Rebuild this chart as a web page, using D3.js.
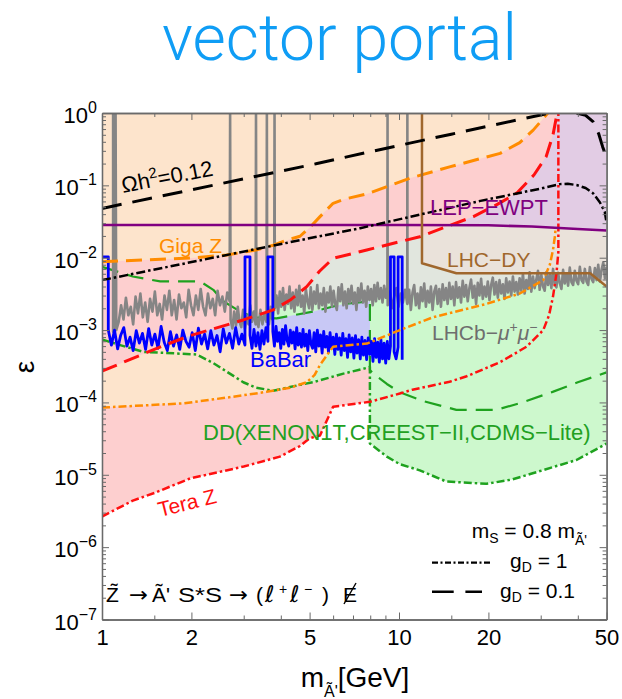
<!DOCTYPE html>
<html>
<head>
<meta charset="utf-8">
<script src="https://cdn.jsdelivr.net/npm/d3@7"></script>
<style>
  body { margin: 0; background: #fff; }
  svg { display: block; font-family: "Liberation Sans", Arial, Helvetica, sans-serif; }
</style>
</head>
<body>
<svg id="chart" width="622" height="699"></svg>
<script>
// ---------- data: mass m_A' [GeV] vs kinetic mixing epsilon ----------
const xMajor = [1, 2, 5, 10, 20, 50];
const xMinor = [1.5, 3, 4, 6, 7, 8, 9, 15, 30, 40];
const yExponents = [0, -1, -2, -3, -4, -5, -6, -7];

// relic abundance lines (Omega h^2 = 0.12)
const relicG01 = [[1, 0.048], [5.3, 0.2], [7.79, 0.285], [15, 0.51], [30, 0.94], [32.1, 1.0]];
const relicG01High = [[39.6, 1.0], [42.5, 0.93], [45, 0.76], [47, 0.52], [48.5, 0.34], [50, 0.24]];
const relicG1 = [[1, 0.0049], [5.3, 0.0195], [7.4, 0.0256], [18.8, 0.061], [29.9, 0.09], [34.8, 0.104],
                 [37, 0.105], [39.6, 0.101], [42.5, 0.092], [45, 0.078], [47.5, 0.058], [49.3, 0.043], [50, 0.03]];

// Giga Z projections
const gigaZ01 = [[1, 0.0088], [2.0, 0.0099], [2.63, 0.0109], [3.3, 0.0128], [3.8, 0.015], [4.19, 0.0175],
                 [4.64, 0.0198], [5.0, 0.026], [5.42, 0.037], [6.0, 0.0565], [6.5, 0.064], [7.79, 0.076],
                 [10.85, 0.125], [14.8, 0.18], [21.9, 0.277], [25.5, 0.39], [28.3, 0.58], [30.3, 0.8], [31.7, 1.0]];
const gigaZ1 = [[1, 8.5e-5], [1.88, 9.7e-5], [2.77, 1.2e-4], [3.58, 1.4e-4], [4.3, 1.6e-4], [4.89, 1.9e-4],
                [5.2, 2.4e-4], [5.42, 3.3e-4], [6.0, 5.9e-4], [7.8, 6.5e-4], [10.07, 1.0e-3], [13.0, 1.5e-3],
                [19.7, 2.3e-3], [25.5, 3.2e-3], [30.6, 4.9e-3], [32.2, 8e-3], [33, 0.0128], [33.5, 0.02], [33.7, 0.026]];
const gigaZ1RegionMaxX = 6.5;

// Tera Z projections
const teraZ01 = [[1, 2.7e-4], [1.53, 5.6e-4], [1.93, 8.1e-4], [2.99, 1.38e-3], [3.77, 1.9e-3], [4.3, 2.6e-3],
                 [4.89, 3.98e-3], [5.4, 6.5e-3], [6.0, 9.8e-3], [7.79, 0.0128], [11.75, 0.0195], [17.8, 0.037],
                 [21.5, 0.055], [24.9, 0.078], [28.5, 0.14], [31.3, 0.25], [33, 0.5], [33.9, 0.89], [34.1, 1.0]];
const teraZ1 = [[1, 2.65e-6], [1.27, 4.4e-6], [1.5, 5.6e-6], [1.98, 8.9e-6], [3.0, 1.3e-5], [3.97, 1.78e-5],
                [4.64, 2.5e-5], [5.0, 3.2e-5], [5.42, 3.5e-5], [5.7, 5.5e-5], [6.0, 8.7e-5], [7.98, 1.02e-4],
                [10.07, 1.33e-4], [11.1, 1.5e-4], [14.8, 1.93e-4], [16.9, 2.3e-4], [21.9, 3.6e-4], [26.9, 5.9e-4],
                [30.6, 1.0e-3], [32, 1.6e-3], [33, 2.9e-3], [33.9, 6.1e-3], [34.4, 0.012], [34.4, 1.0]];

// direct detection (XENON1T, CRESST-II, CDMS-Lite)
const dd1 = [[1, 7.4e-4], [1.15, 6.2e-4], [1.38, 5.0e-4], [2.08, 4.6e-4], [2.37, 3.5e-4], [2.99, 1.9e-4],
             [3.3, 1.6e-4], [3.77, 1.45e-4], [4.64, 1.75e-4], [5.14, 1.9e-4], [6.5, 2.5e-4], [7.79, 3.0e-4],
             [7.98, 3.1e-4], [7.98, 2.7e-5], [9.1, 1.78e-5], [10.07, 1.4e-5], [11.75, 1.15e-5], [14.4, 8.1e-6],
             [19.7, 7.5e-6], [24, 8.6e-6], [28.2, 1.05e-5], [39.6, 1.6e-5], [50, 2.7e-5]];
const dd01 = [[1, 7.5e-3], [1.27, 5.5e-3], [1.57, 4.7e-3], [2.14, 4.7e-3], [2.37, 3.6e-3], [2.56, 2.5e-3],
              [2.99, 1.7e-3], [3.31, 1.5e-3], [3.87, 1.45e-3], [5.14, 1.8e-3], [6.5, 2.3e-3], [7.98, 2.5e-3],
              [7.98, 2.8e-4], [8.2, 2.5e-4], [9.1, 1.8e-4], [10, 1.4e-4], [12, 1.05e-4], [15.6, 7.9e-5],
              [21.3, 7.9e-5], [26, 1.0e-4], [32.9, 1.4e-4], [40, 1.9e-4], [50, 2.6e-4]];

// LEP electroweak precision and LHC Drell-Yan
const lepEwpt = [[1, 0.0283], [10, 0.0283], [20, 0.028], [28, 0.027], [40, 0.025], [50, 0.0237]];
const lhcDy = [[11.95, 1.0], [11.95, 8.4e-3], [15.6, 6.1e-3], [44, 6.1e-3], [50, 4.0e-3]];

// LHCb dimuon search: scan values (units of 1e-3) between resonance vetoes
const lhcbTop = 1.0;
const lhcbSegments = [
  { from: 1.090, to: 1.105, v: [0.95, 1.1] },
  { from: 1.117, to: 2.69, v: [1.0,1.3,2.2,1.4,2.8,1.6,2.1,1.2,2.9,1.7,3.2,1.5,2.4,1.3,2.7,1.8,3.4,1.6,2.3,1.4,3.0,1.9,3.5,1.6,
                               2.6,1.4,3.1,2.0,2.4,1.5,3.6,2.2,1.6,3.0,1.9,3.7,2.1,1.6,3.2,2.0,2.7,1.6,3.5,2.2,2.9,1.8,3.3,2.5] },
  { from: 2.71, to: 3.29, v: [1.4,1.05,1.8,1.15,2.1,1.3,1.1,1.9,1.05,1.6,1.2,2.2,1.3,1.8,1.2] },
  { from: 3.31, to: 3.58, v: [1.5,1.1,1.9,1.2,1.7,1.3] },
  { from: 3.60, to: 3.80, v: [1.6,1.2,2.1,1.4,2.4] },
  { from: 3.82, to: 9.14, v: [2.0,3.0,1.7,3.4,2.1,3.8,1.9,3.1,2.3,4.0,2.0,3.3,1.8,3.6,2.2,4.1,2.1,3.0,1.7,3.7,2.5,2.0,3.9,1.9,
                               3.4,2.3,4.2,2.0,3.2,2.2,3.8,1.8,3.3,2.4,4.0,2.1,3.5,2.3,1.9,3.9,2.5,4.3,2.2,3.4,2.0,3.7,2.4,4.1,
                               2.3,3.3,1.9,3.8,2.5,4.4,2.4,3.5,2.1,4.0,2.6,3.7,2.2,4.2,2.5,4.5,2.7,3.8,2.4,4.1,2.8,3.9] },
  { from: 9.16, to: 10.66, v: [2.2,3.4,2.0,2.9,3.8,2.1,3.2,2.4,3.6,2.3] },
  { from: 10.68, to: 50, v: [2.3,3.6,1.9,3.3,4.2,2.2,3.2,2.0,3.9,2.5,4.4,2.1,3.5,2.4,4.0,1.9,3.4,4.1,2.3,3.7,2.1,4.3,2.6,3.8,2.3,4.5,
                              2.7,4.0,2.2,4.6,2.8,3.9,2.4,4.8,2.9,4.2,2.5,3.8,5.0,2.8,4.1,2.3,4.5,3.0,5.1,2.7,4.0,2.9,4.7,2.6,
                              4.2,5.3,3.1,4.6,2.8,4.9,3.2,4.3,2.7,5.2,3.3,4.7,3.0,5.5,3.4,4.6,
                              3.1,5.2,3.5,6.0,3.2,4.9,3.7,6.3,3.4,5.5,3.8,5.0,6.6,3.6,5.8,4.0,3.5,6.3,4.2,5.9,3.8,7.0,4.3,3.9,
                              6.2,4.5,3.7,6.8,4.4,6.1,4.1,7.3,4.6,4.2,6.6,4.8,4.3,7.5,4.9,4.5,7.0,4.7,4.2,7.4,5.1,4.6,7.2,4.9,
                              8.0,4.7,6.8,8.6,5.2,7.5] }
];
const lhcbVetoes = [1.111, 2.70, 3.30, 3.59, 3.81, 9.15, 10.67];

// BaBar search: scan values (units of 1e-3) and vetoed windows
const babarTop = 0.0103;
const babarStartX = 1.0;
const babarSegments = [
  { from: 1.05, to: 3.03, v: [1.0,0.62,1.0,0.55,0.85,1.08,0.6,0.8,0.52,0.98,0.66,0.9,0.54,1.05,0.62,0.88,0.56,1.12,0.68,0.52,0.95,0.6,
                              0.86,0.54,1.0,0.7,0.58,0.92,0.52,1.06,0.64,0.88,0.55,0.98,0.62,0.84,0.5,1.04,0.66,0.9,0.56,1.08,0.64,0.88,0.62] },
  { from: 3.15, to: 3.62, v: [0.85,0.56,1.02,0.6,0.92,0.54,0.98,0.64,1.08,0.7] },
  { from: 3.76, to: 9.36, v: [0.95,0.6,1.12,0.7,0.92,0.56,1.02,0.64,1.15,0.72,0.6,1.0,0.66,0.94,0.55,1.08,0.62,0.9,0.58,1.02,0.6,0.88,
                              0.52,0.98,0.64,0.56,0.92,0.5,1.0,0.6,0.86,0.48,0.96,0.58,0.82,0.5,0.92,0.56,0.8,0.46,0.88,0.54,0.78,
                              0.45,0.9,0.52,0.76,0.42,0.86,0.5,0.78,0.41,0.84,0.48,0.74,0.4,0.8,0.45,0.72,0.39,0.78,0.46,0.7,0.37,
                              0.76,0.42,0.68,0.36,0.74,0.4,0.66,0.35,0.7,0.4,0.6] },
  { from: 9.63, to: 9.93, v: [0.5,0.4,0.58] },
  { from: 10.25, to: 10.25, v: [0.39] }
];
const babarVetoes = [[3.03, 3.15], [3.62, 3.76], [9.36, 9.63], [9.93, 10.25]];

// ---------- layout ----------
const plot = { left: 102, right: 606.6, top: 113, bottom: 619.5 };
const svg = d3.select("#chart");
const x = d3.scaleLog().domain([1, 50]).range([plot.left, plot.right]);
const y = d3.scaleLog().domain([1e-7, 1]).range([plot.bottom, plot.top]);
const line = d3.line().x(d => x(d[0])).y(d => y(d[1]));

function segPoints(seg) {
  const n = seg.v.length, l0 = Math.log10(seg.from), l1 = Math.log10(seg.to);
  return seg.v.map((v, i) => [Math.pow(10, n === 1 ? l0 : l0 + (l1 - l0) * i / (n - 1)), v * 1e-3]);
}

// LHCb curve with spikes through vetoed resonances
const lhcbPts = [[lhcbSegments[0].from, lhcbTop]];
lhcbSegments.forEach((s, i) => {
  lhcbPts.push(...segPoints(s));
  if (i < lhcbVetoes.length) lhcbPts.push([lhcbVetoes[i], lhcbTop]);
});

// BaBar curve with boxes over vetoed windows
const babarPts = [[babarStartX, babarTop], [babarSegments[0].from, babarTop]];
babarSegments.forEach((s, i) => {
  const pts = segPoints(s);
  babarPts.push(...pts);
  if (i < babarVetoes.length) {
    const [a, b] = babarVetoes[i];
    babarPts.push([a, pts[pts.length - 1][1]], [a, babarTop], [b, babarTop]);
  }
});

function regionAbove(pts) {
  const p = [...pts, [pts[pts.length - 1][0], 1], [pts[0][0], 1]];
  return line(p) + "Z";
}

// ---------- title ----------
const title = svg.append("text")
  .attr("x", 339.5).attr("y", 60)
  .attr("text-anchor", "middle")
  .attr("fill", "#0f9df5")
  .style("font-family", "Roboto, 'Liberation Sans', Arial, sans-serif")
  .style("font-weight", 300)
  .style("font-size", "64px")
  .text("vector portal");
const tw = title.node().getComputedTextLength();
title.style("font-size", (64 * 355 / tw).toFixed(1) + "px");

// ---------- filled regions ----------
svg.append("defs").append("clipPath").attr("id", "plotClip")
  .append("rect").attr("x", plot.left).attr("y", plot.top)
  .attr("width", plot.right - plot.left).attr("height", plot.bottom - plot.top);
const gFill = svg.append("g").attr("clip-path", "url(#plotClip)");

const fills = [
  { pts: teraZ1, color: "#fdcfcf" },
  { pts: dd1, color: "#cdf8cd" },
  { pts: gigaZ1.filter(d => d[0] <= gigaZ1RegionMaxX).concat([[gigaZ1RegionMaxX, 6.1e-4]]), color: "#fde4cc" },
  { pts: babarPts, color: "#c8c8f5" },
  { pts: dd01, color: "#cdf8cd" },
  { pts: lhcbPts, color: "#e1e6de" },
  { pts: lhcDy, color: "#eae2da" },
  { pts: lepEwpt, color: "#e2cce4" },
  { pts: teraZ01, color: "#fdcfcf" },
  { pts: gigaZ01, color: "#fde4cc" }
];
fills.forEach(f => gFill.append("path").attr("d", regionAbove(f.pts)).attr("fill", f.color));

// ---------- boundary curves ----------
const gLines = svg.append("g").attr("clip-path", "url(#plotClip)")
  .attr("fill", "none").attr("stroke-linejoin", "round");
const green = "#1fa21f", orange = "#ff8c00", red = "#ff1010";
const DASH = "16 8", DASHDOT = "8 3 2.5 3";
const curves = [
  { pts: dd01, stroke: green, w: 2.2, dash: "17 9" },
  { pts: dd1, stroke: green, w: 2.5, dash: DASHDOT },
  { pts: lhcbPts, stroke: "#858585", w: 2.6 },
  { pts: babarPts, stroke: "#0000ff", w: 2.8 },
  { pts: gigaZ1, stroke: orange, w: 2.5, dash: DASHDOT },
  { pts: gigaZ01, stroke: orange, w: 3, dash: DASH },
  { pts: teraZ1, stroke: red, w: 2.5, dash: DASHDOT },
  { pts: teraZ01, stroke: red, w: 3, dash: DASH },
  { pts: lepEwpt, stroke: "#800080", w: 2.5 },
  { pts: lhcDy, stroke: "#a0672d", w: 2.5 },
  { pts: relicG1, stroke: "#000", w: 2.5, dash: "9 3 2.5 3" },
  { pts: relicG01, stroke: "#000", w: 3, dash: "20 11" },
  { pts: relicG01High, stroke: "#000", w: 3, dash: "20 11" }
];
curves.forEach(c => {
  const p = gLines.append("path").attr("d", line(c.pts)).attr("stroke", c.stroke).attr("stroke-width", c.w);
  if (c.dash) p.attr("stroke-dasharray", c.dash);
});

// ---------- axes / frame ----------
const axisColor = "#6a6a6a";
const yMajor = yExponents.map(e => Math.pow(10, e));
const yMinor = [];
for (let e = -7; e < 0; e++) for (let m = 2; m <= 9; m++) yMinor.push(m * Math.pow(10, e));

function styleAxis(g) {
  g.attr("font-family", null).attr("font-size", null);
  g.select(".domain").attr("stroke", axisColor).attr("stroke-width", 1.3);
  g.selectAll(".tick line").attr("stroke", axisColor).attr("stroke-width", 1);
}
const axes = [
  [d3.axisBottom(x).tickValues(xMajor).tickSizeInner(-7).tickSizeOuter(0).tickPadding(10).tickFormat(d3.format("d")), `translate(0,${plot.bottom})`],
  [d3.axisBottom(x).tickValues(xMinor).tickSizeInner(-4).tickSizeOuter(0).tickFormat(""), `translate(0,${plot.bottom})`],
  [d3.axisTop(x).tickValues(xMajor).tickSizeInner(-7).tickSizeOuter(0).tickFormat(""), `translate(0,${plot.top})`],
  [d3.axisTop(x).tickValues(xMinor).tickSizeInner(-4).tickSizeOuter(0).tickFormat(""), `translate(0,${plot.top})`],
  [d3.axisLeft(y).tickValues(yMajor).tickSizeInner(-7).tickSizeOuter(0).tickFormat(""), `translate(${plot.left},0)`],
  [d3.axisLeft(y).tickValues(yMinor).tickSizeInner(-4).tickSizeOuter(0).tickFormat(""), `translate(${plot.left},0)`],
  [d3.axisRight(y).tickValues(yMajor).tickSizeInner(-7).tickSizeOuter(0).tickFormat(""), `translate(${plot.right},0)`],
  [d3.axisRight(y).tickValues(yMinor).tickSizeInner(-4).tickSizeOuter(0).tickFormat(""), `translate(${plot.right},0)`]
];
axes.forEach(([ax, tr]) => svg.append("g").attr("transform", tr).call(ax).call(styleAxis));
svg.selectAll(".tick text").attr("fill", "#000").style("font-size", "22px");

// y tick labels as powers of ten
const yLab = svg.append("g").attr("text-anchor", "end").attr("fill", "#000");
yExponents.forEach(e => {
  const t = yLab.append("text").attr("x", 97).attr("y", y(Math.pow(10, e)) + 10).style("font-size", "22px");
  t.append("tspan").text("10");
  t.append("tspan").attr("dy", -10).style("font-size", "16px").text(e === 0 ? "0" : "\u2212" + (-e));
});

// axis titles
const xt = svg.append("text").attr("x", 355).attr("y", 687).attr("text-anchor", "middle").style("font-size", "28px");
xt.append("tspan").text("m");
xt.append("tspan").attr("dy", 10).style("font-size", "16px").text("\u00C3'");
xt.append("tspan").attr("dy", -10).text("[GeV]");
svg.append("text").attr("transform", "translate(34,367) rotate(-90)").attr("text-anchor", "middle")
  .style("font-size", "28px").text("\u03B5");

// ---------- in-plot labels ----------
const lab = svg.append("g");
const om = lab.append("text").attr("transform", "translate(123,193) rotate(-11)").style("font-size", "22px");
om.append("tspan").text("\u03A9h");
om.append("tspan").attr("dy", -9).style("font-size", "15px").text("2");
om.append("tspan").attr("dy", 9).text("=0.12");
lab.append("text").attr("x", 159).attr("y", 252.5).attr("fill", orange).style("font-size", "21px").text("Giga Z");
lab.append("text").attr("x", 430).attr("y", 215).attr("fill", "#800080").style("font-size", "22px").text("LEP\u2212EWPT");
lab.append("text").attr("x", 447).attr("y", 266.5).attr("fill", "#a0672d").style("font-size", "21px").text("LHC\u2212DY");
const lb = lab.append("text").attr("x", 432).attr("y", 340).attr("fill", "#6e6e6e").style("font-size", "21px");
lb.append("tspan").text("LHCb\u2212");
lb.append("tspan").style("font-style", "italic").text("\u03BC");
lb.append("tspan").attr("dy", -8).style("font-size", "14px").text("+");
lb.append("tspan").attr("dy", 8).style("font-style", "italic").text("\u03BC");
lb.append("tspan").attr("dy", -8).style("font-size", "14px").text("\u2212");
lab.append("text").attr("x", 250).attr("y", 367).attr("fill", "#0000ff").style("font-size", "22px").text("BaBar");
lab.append("text").attr("x", 203).attr("y", 440).attr("fill", "#22a022").style("font-size", "22px")
  .text("DD(XENON1T,CREEST\u2212II,CDMS\u2212Lite)");
lab.append("text").attr("transform", "translate(160,517) rotate(-14)").attr("fill", red).style("font-size", "21px").text("Tera Z");

// process formula, laid out piece by piece
const fBase = 601.5;
const pieces = [
  { t: "Z\u0303", x: 106, size: 21 },
  { t: "\u2192", x: 129, size: 21, len: 19, font: "DejaVu Sans" },
  { t: "\u00C3'", x: 152, size: 21 },
  { t: "S*S", x: 178, size: 21, len: 44 },
  { t: "\u2192", x: 229, size: 21, len: 19, font: "DejaVu Sans" },
  { t: "(", x: 256, size: 21 },
  { t: "\u2113", x: 265, size: 23, font: "DejaVu Sans", italic: true },
  { t: "+", x: 279, size: 14, dy: -8 },
  { t: "\u2113", x: 290, size: 23, font: "DejaVu Sans", italic: true },
  { t: "\u2212", x: 304, size: 14, dy: -8 },
  { t: ")", x: 322, size: 21 },
  { t: "E", x: 343, size: 21 }
];
pieces.forEach(p => {
  const t = lab.append("text").attr("x", p.x).attr("y", fBase + (p.dy || 0)).style("font-size", p.size + "px").text(p.t);
  if (p.len) t.attr("textLength", p.len).attr("lengthAdjust", "spacingAndGlyphs");
  if (p.font) t.style("font-family", p.font);
  if (p.italic) t.style("font-style", "italic");
});
lab.append("line").attr("x1", 344).attr("y1", 604).attr("x2", 356).attr("y2", 583)
  .attr("stroke", "#000").attr("stroke-width", 1.4);

// legend
const lg = svg.append("g");
const ms = lg.append("text").attr("x", 587).attr("y", 538).attr("text-anchor", "end").style("font-size", "21px");
ms.append("tspan").text("m");
ms.append("tspan").attr("dy", 5).style("font-size", "14px").text("S");
ms.append("tspan").attr("dy", -5).text(" = 0.8 m");
ms.append("tspan").attr("dy", 7).style("font-size", "14px").text("\u00C3'");
lg.append("line").attr("x1", 432).attr("x2", 490).attr("y1", 562.7).attr("y2", 562.7)
  .attr("stroke", "#000").attr("stroke-width", 2.2).attr("stroke-dasharray", "6 2.5 2 2.5");
lg.append("line").attr("x1", 432).attr("x2", 482).attr("y1", 591.7).attr("y2", 591.7)
  .attr("stroke", "#000").attr("stroke-width", 2.6).attr("stroke-dasharray", "21.7 11.7");
const g1 = lg.append("text").attr("x", 510).attr("y", 568).style("font-size", "21px");
g1.append("tspan").text("g");
g1.append("tspan").attr("dy", 4).style("font-size", "14px").text("D");
g1.append("tspan").attr("dy", -4).text(" = 1");
const g2 = lg.append("text").attr("x", 500).attr("y", 598).style("font-size", "21px");
g2.append("tspan").text("g");
g2.append("tspan").attr("dy", 4).style("font-size", "14px").text("D");
g2.append("tspan").attr("dy", -4).text(" = 0.1");
</script>
</body>
</html>
